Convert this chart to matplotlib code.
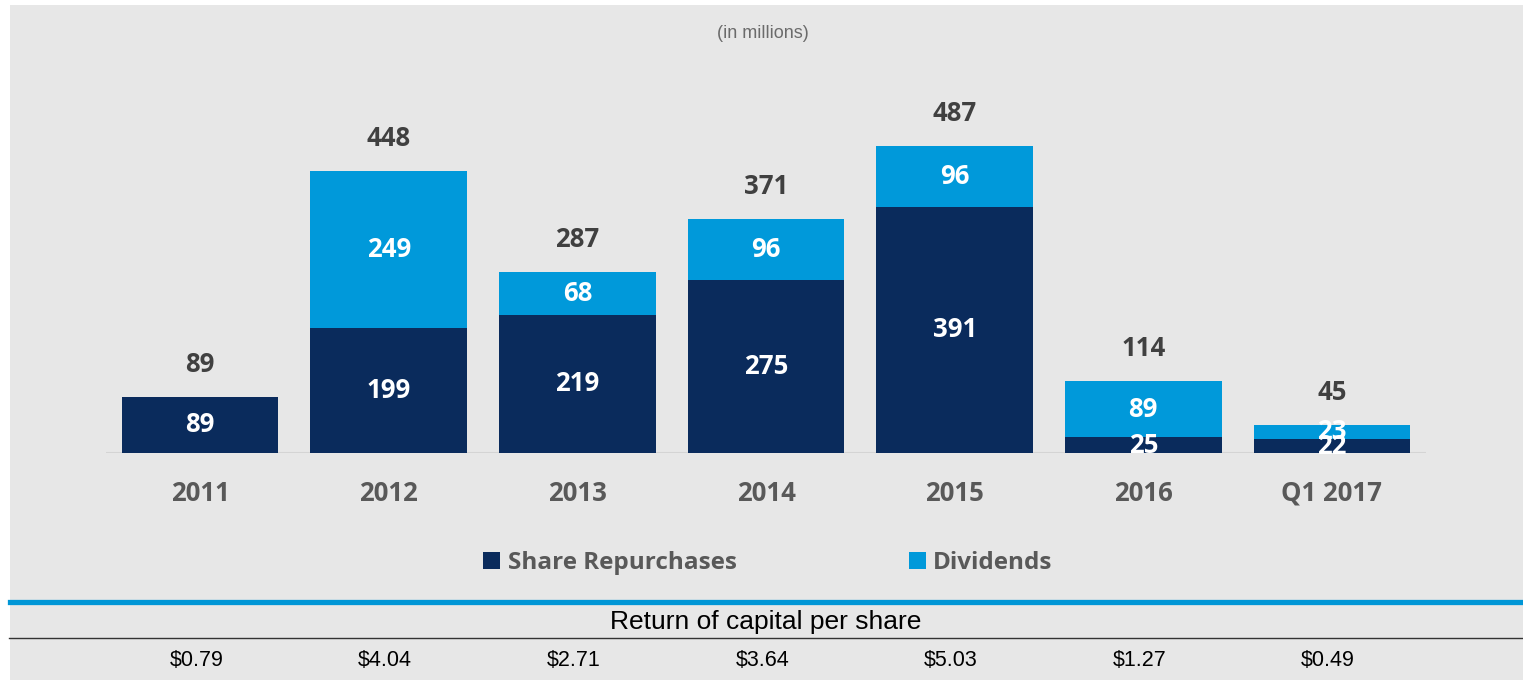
import matplotlib.pyplot as plt
import matplotlib.transforms as mtransforms
from matplotlib.patches import Rectangle
import numpy as np

# ── Data ─────────────────────────────────────────────────────────
categories = ["2011", "2012", "2013", "2014", "2015", "2016", "Q1 2017"]
repurchases = [89, 199, 219, 275, 391, 25, 22]
dividends = [0, 249, 68, 96, 96, 89, 23]
totals = [89, 448, 287, 371, 487, 114, 45]
per_share = ["$0.79", "$4.04", "$2.71", "$3.64", "$5.03", "$1.27", "$0.49"]

NAVY = "#0a2b5c"
BLUE = "#0099da"
BG = "#e7e7e7"
BOLD_FONT = ["Open Sans", "DejaVu Sans"]
PLAIN_FONT = ["Liberation Sans", "DejaVu Sans"]

fig = plt.figure(figsize=(15.23, 6.8), dpi=100)
fig.patch.set_facecolor("white")
fig.patches.append(Rectangle((10 / 1523, 0), 1, 675 / 680, transform=fig.transFigure,
                             facecolor=BG, edgecolor="none", zorder=-10))

ax = fig.add_axes([0.0694, 0.3338, 0.8671, 0.5191])
ax.set_zorder(1)
ax.set_facecolor("none")
x = np.arange(len(categories))
width = 0.83

b1 = ax.bar(x, repurchases, width, color=NAVY, label="Share Repurchases", zorder=3)
b2 = ax.bar(x, dividends, width, bottom=repurchases, color=BLUE, label="Dividends", zorder=3)
ax.axhline(0, color="#d4d4d4", lw=1.5, zorder=2)

# segment labels
for i in range(len(categories)):
    ax.text(x[i], repurchases[i] / 2, str(repurchases[i]), ha="center", va="center",
            color="white", fontsize=18.5, fontweight="bold", family=BOLD_FONT, zorder=4)
    if dividends[i] > 0:
        ax.text(x[i], repurchases[i] + dividends[i] / 2, str(dividends[i]), ha="center",
                va="center", color="white", fontsize=18.5, fontweight="bold",
                family=BOLD_FONT, zorder=4)
    ax.annotate(str(totals[i]), (x[i], totals[i]), xytext=(0, 18),
                textcoords="offset points", ha="center", va="baseline",
                color="#404040", fontsize=18.5, fontweight="bold", family=BOLD_FONT)

ax.set_xlim(-0.5, 6.5)
ax.set_ylim(0, 560)
ax.set_yticks([])
ax.set_xticks(x)
ax.set_xticklabels(categories, fontsize=18.5, fontweight="bold", family=BOLD_FONT,
                   color="#595959")
for t in ax.get_xticklabels():
    t.set_va("baseline")
ax.tick_params(axis="x", length=0, pad=34.5)
for s in ax.spines.values():
    s.set_visible(False)

fig.legend(handles=[b1, b2], loc="center", bbox_to_anchor=(768 / 1523, 1 - 563 / 680),
           ncol=2, frameon=False, handlelength=0.7, handleheight=0.7,
           handletextpad=0.3, columnspacing=7.1,
           prop={"family": BOLD_FONT, "weight": "bold", "size": 17.5},
           labelcolor="#595959")

fig.text(763 / 1523, 1 - 33 / 680, "(in millions)", ha="center", va="center",
         fontsize=13, color="#6b6b6b", family=PLAIN_FONT)

# table below
fig.add_artist(plt.Line2D([10 / 1523, 1], [1 - 602 / 680] * 2, transform=fig.transFigure,
                          color="#0096d6", lw=3.8))
fig.add_artist(plt.Line2D([9 / 1523, 1], [1 - 638 / 680] * 2, transform=fig.transFigure,
                          color="#333333", lw=1.0))
fig.text(766 / 1523, 1 - 622 / 680, "Return of capital per share", ha="center",
         va="center", fontsize=19, color="black", family=PLAIN_FONT)

row = mtransforms.blended_transform_factory(ax.transData, fig.transFigure)
for i, v in enumerate(per_share):
    ax.text(x[i] - 0.02, 1 - 661 / 680, v, transform=row, ha="center", va="center",
            fontsize=15.5, color="black", family=PLAIN_FONT, clip_on=False)

fig.savefig("out.png", dpi=100, facecolor=fig.get_facecolor())
